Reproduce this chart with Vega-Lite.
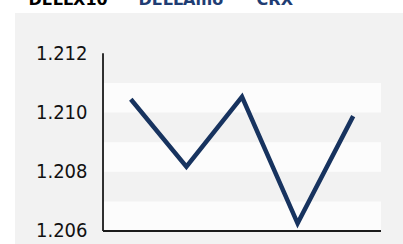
{
  "$schema": "https://vega.github.io/schema/vega-lite/v6.json",
  "width": 388,
  "height": 231,
  "autosize": {"type": "none"},
  "padding": {"left": 15, "top": 13, "right": 0, "bottom": 0},
  "background": "#ffffff",
  "config": {
    "view": {"fill": "#f2f2f2", "stroke": null},
    "font": "DejaVu Sans Condensed, DejaVu Sans"
  },
  "datasets": {
    "bands": [
      {"low": 1.206, "high": 1.207},
      {"low": 1.208, "high": 1.209},
      {"low": 1.210, "high": 1.211}
    ],
    "series": [
      {"period": 1, "value": 1.21045},
      {"period": 2, "value": 1.20817},
      {"period": 3, "value": 1.21053},
      {"period": 4, "value": 1.20626},
      {"period": 5, "value": 1.20988}
    ]
  },
  "layer": [
    {
      "data": {"name": "bands"},
      "mark": {"type": "rect", "color": "#fcfcfc"},
      "encoding": {
        "x": {
          "datum": 0.5,
          "type": "quantitative",
          "scale": {"domain": [-1.083, 5.896], "nice": false, "zero": false},
          "axis": {
            "orient": "top",
            "labels": false,
            "ticks": false,
            "domain": false,
            "grid": false,
            "title": "DELLAmo\u00a0\u00a0\u00a0\u00a0\u00a0\u00a0CRX",
            "titleColor": "#1f3d73",
            "titleFontSize": 16,
            "titleFontWeight": "bold",
            "titleFont": "DejaVu Sans",
            "titleAnchor": "start",
            "titleAlign": "left",
            "titleBaseline": "alphabetic",
            "titleX": 123,
            "titleY": -9
          }
        },
        "x2": {"datum": 5.5},
        "y": {
          "field": "low",
          "type": "quantitative",
          "scale": {"domain": [1.205561, 1.213361], "nice": false, "zero": false},
          "axis": {
            "values": [1.206, 1.208, 1.210, 1.212],
            "format": ".3f",
            "offset": -88,
            "domain": false,
            "ticks": false,
            "tickSize": 0,
            "grid": false,
            "labelPadding": 16,
            "labelFontSize": 20,
            "labelColor": "#111111",
            "title": "DELLX10",
            "titleAngle": 0,
            "titleAlign": "left",
            "titleBaseline": "alphabetic",
            "titleX": -75,
            "titleY": -9,
            "titleFontSize": 16,
            "titleFontWeight": "bold",
            "titleFont": "DejaVu Sans",
            "titleColor": "#000000"
          }
        },
        "y2": {"field": "high"}
      }
    },
    {
      "data": {"values": [{}]},
      "mark": {"type": "rule", "color": "#1a1a1a", "strokeWidth": 1.8},
      "encoding": {
        "x": {"datum": 0.5, "type": "quantitative"},
        "y": {"datum": 1.206, "type": "quantitative"},
        "y2": {"datum": 1.212}
      }
    },
    {
      "data": {"values": [{}]},
      "mark": {"type": "rule", "color": "#1a1a1a", "strokeWidth": 1.8},
      "encoding": {
        "x": {"datum": 0.5, "type": "quantitative"},
        "x2": {"datum": 5.5},
        "y": {"datum": 1.206, "type": "quantitative"}
      }
    },
    {
      "data": {"name": "series"},
      "mark": {"type": "line", "color": "#17335f", "strokeWidth": 4.5, "strokeJoin": "miter"},
      "encoding": {
        "x": {"field": "period", "type": "quantitative"},
        "y": {"field": "value", "type": "quantitative"}
      }
    }
  ]
}
